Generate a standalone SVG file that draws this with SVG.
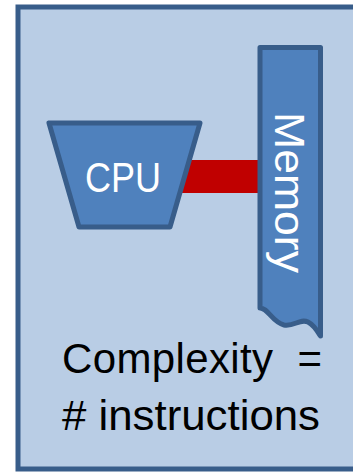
<svg xmlns="http://www.w3.org/2000/svg" width="353" height="472" viewBox="0 0 353 472">
<style>
.shape{fill:#4F81BD;stroke:#385D8A;stroke-width:5;stroke-linejoin:round}
.wt{fill:#FFFFFF;font-family:"Liberation Sans",Arial,sans-serif;font-size:42px}
.bt{fill:#000000;font-family:"Liberation Sans",Arial,sans-serif;font-size:42px;white-space:pre}
</style>
<g id="frame">
<rect x="18" y="7" width="350" height="462" fill="#B9CDE5" stroke="#385D8A" stroke-width="5"/>
</g>
<g id="connectors">
<rect x="180" y="160" width="82" height="33" fill="#C00000"/>
</g>
<g id="cpu">
<polygon class="shape" points="49,123 200,123 170,227 79,227"/>
<text class="wt" x="85" y="192" textLength="76" lengthAdjust="spacingAndGlyphs">CPU</text>
</g>
<g id="memory">
<path class="shape" d="M260,47.5 H320.5 V336 C318,332 314,325 308,322 C300,318 294,327 284,325 C272,322 268,308 260,308 Z"/>
<text class="wt" transform="translate(275,112) rotate(90)" textLength="161" lengthAdjust="spacingAndGlyphs">Memory</text>
</g>
<g id="label">
<text class="bt" x="62" y="373" xml:space="preserve" textLength="260" lengthAdjust="spacing">Complexity  =</text>
<text class="bt" x="62" y="430" textLength="258" lengthAdjust="spacingAndGlyphs"># instructions</text>
</g>
</svg>
